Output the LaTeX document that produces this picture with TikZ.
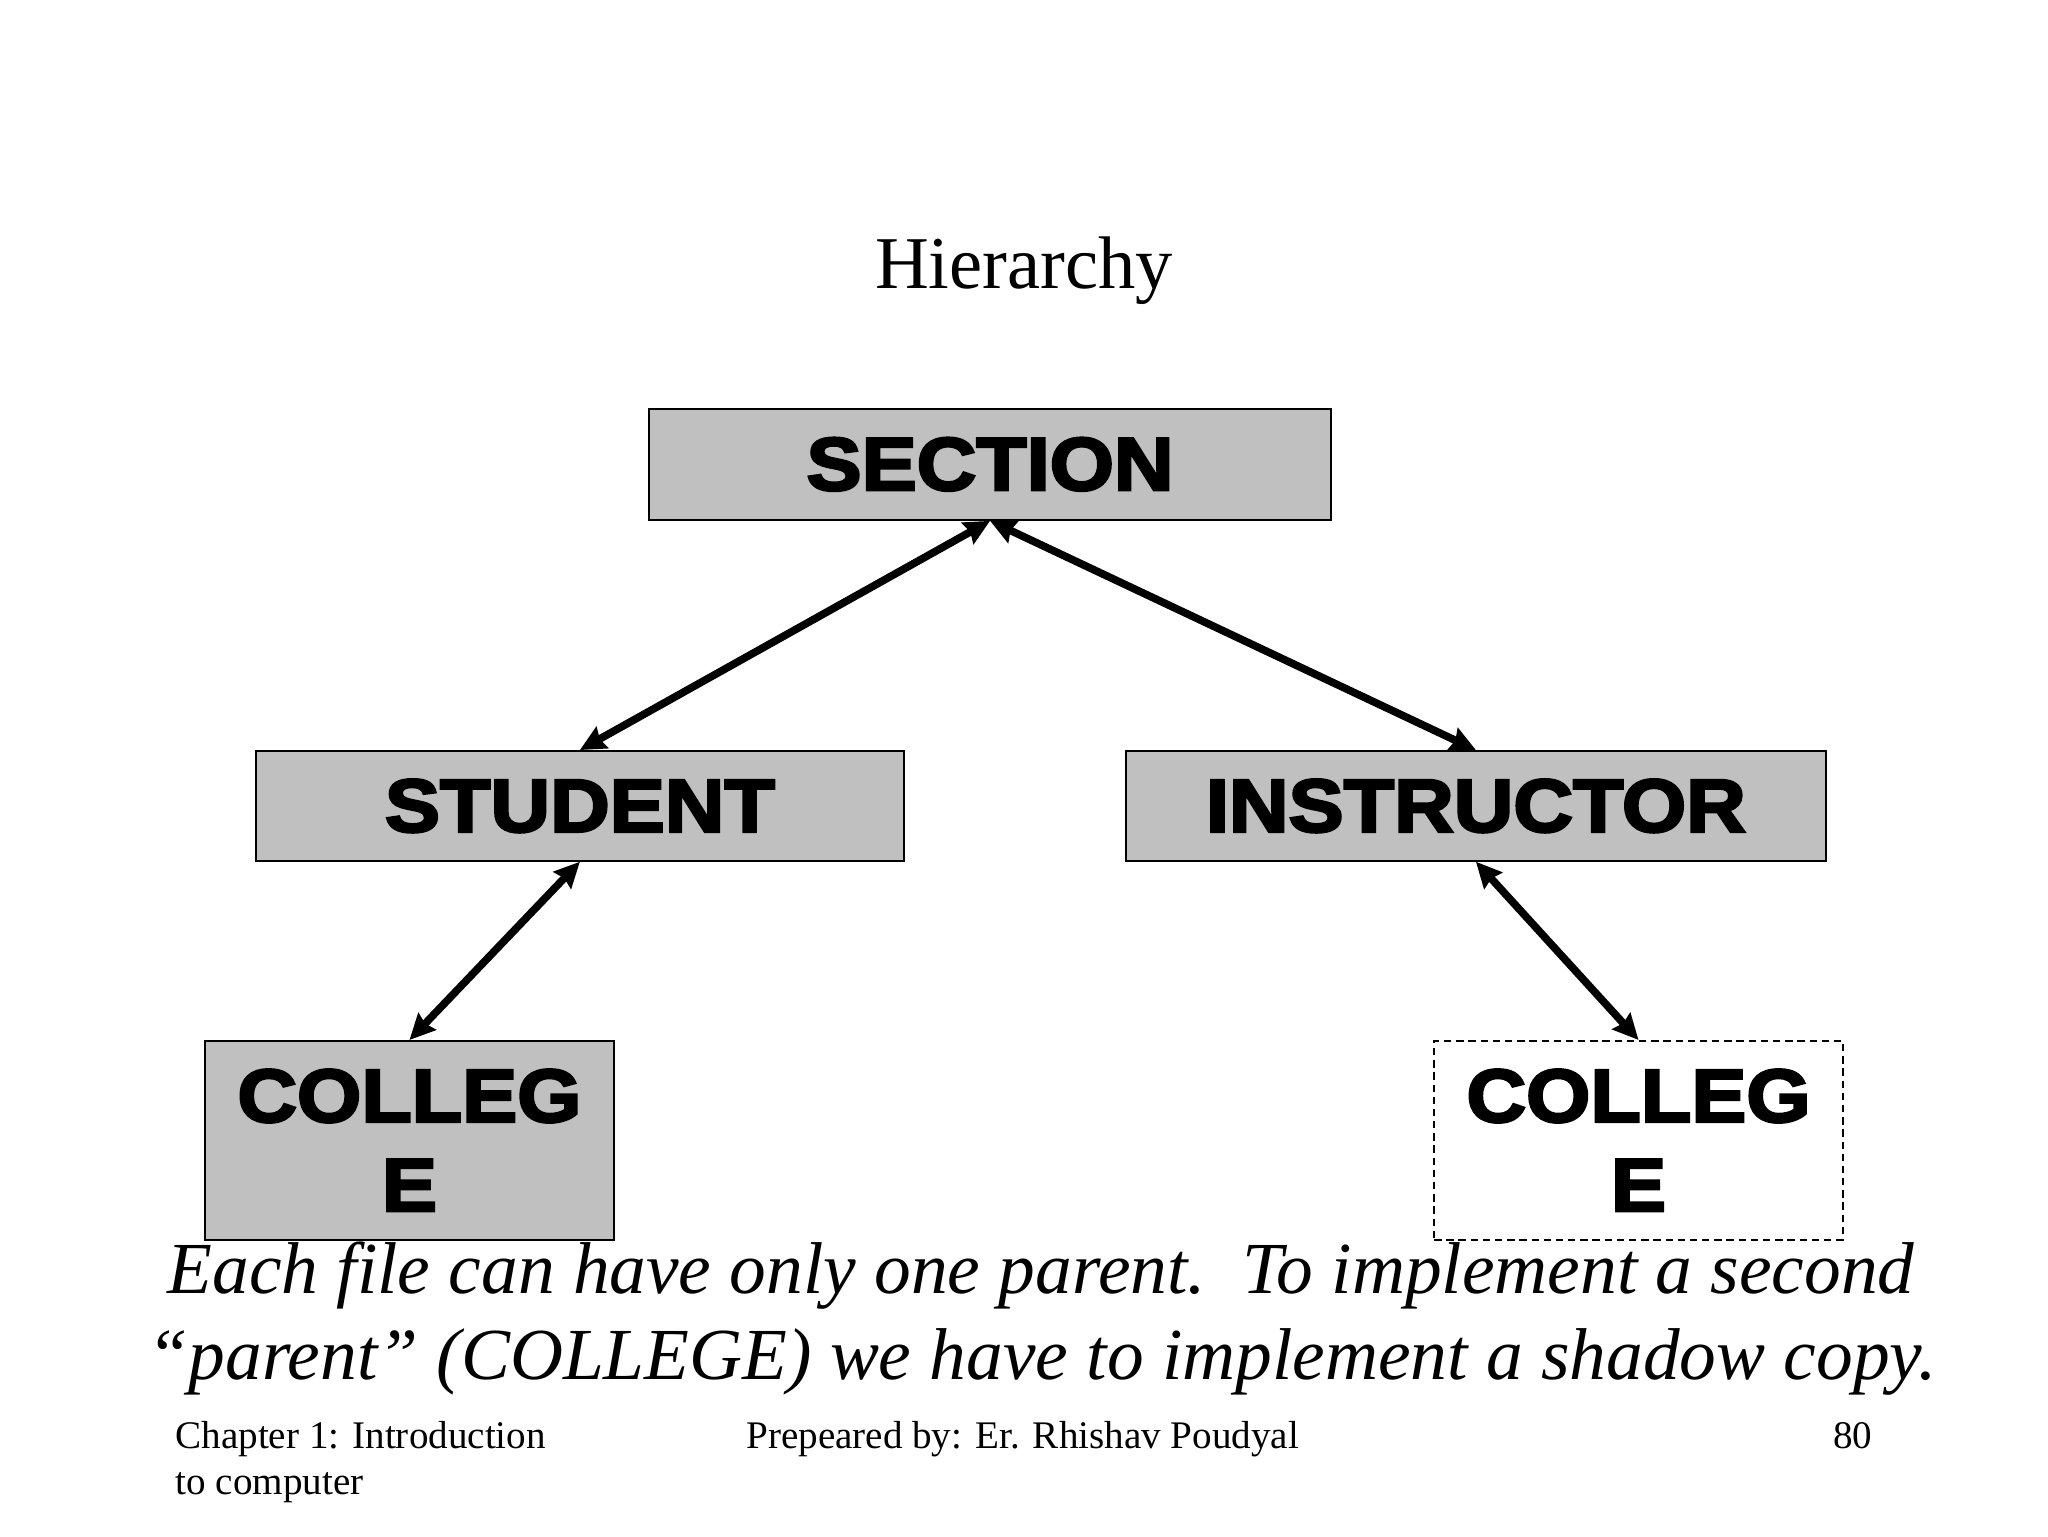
\documentclass[tikz,border=0pt]{standalone}
\usepackage{fontspec}
\setmainfont{Liberation Serif}
\newfontfamily\boxfont{Liberation Sans Bold}[FakeBold=3.5,FakeStretch=1.1]
\usetikzlibrary{arrows.meta}
\def\u{0.0161990}% one pixel of the slide, in cm
\definecolor{boxgray}{HTML}{C0C0C0}
\tikzset{
	MyCoord/.style={x={(\u cm,0cm)},y={(0cm,-\u cm)}},
	MySize/.style 2 args={minimum width={#1*\u*1cm},minimum height={#2*\u*1cm}},% in pixels
	MyBox/.style={draw=black,line width=0.7pt,fill=boxgray,inner sep=0pt,
    align=center,font=\boxfont\fontsize{26.5}{31.5}\selectfont},
	MyShadow/.style={MyBox,fill=white,dash pattern=on 2.6pt off 1.7pt},
	MyArrow/.style={line width=2.7pt,>={Stealth[length=9pt,width=8.5pt,inset=1pt]},<->}
		}

\begin{document}
\begin{tikzpicture}[MyCoord]

  \useasboundingbox (0,0) rectangle (1568,1176);

  % title
  \node[anchor=base,font=\fontsize{26.3}{30}\selectfont] (title) at (784,221) {Hierarchy};

  % the files
  \node[MyBox,MySize={522}{85}] (section) at (758,355.5) {SECTION};
  \node[MyBox,MySize={496}{84}] (student) at (444,617) {STUDENT};
  \node[MyBox,MySize={536}{84}] (instructor) at (1130,617) {INSTRUCTOR};
  \node[MyBox,MySize={313}{152}] (college) at (313.5,873) {COLLEG\\E};
  \node[MyShadow,MySize={313}{152}] (shadow) at (1254.5,873) {COLLEG\\E};

  % parent -- child links
  \draw[MyArrow] (section.south) -- (student.north);
  \draw[MyArrow] (section.south) -- (instructor.north);
  \draw[MyArrow] (student.south) -- (college.north);
  \draw[MyArrow] (instructor.south) -- (shadow.north);

  % caption
  \node[anchor=base,font=\itshape\fontsize{25.9}{30}\selectfont] (capA) at (797,990)
    {Each file can have only one parent.\ \ To implement a second};
  \node[anchor=base,font=\itshape\fontsize{25.9}{30}\selectfont] (capB) at (798,1056)
    {``parent'' (COLLEGE) we have to implement a shadow copy.};

  % footer
  \node[anchor=base west,inner sep=0pt,font=\fontsize{13.8}{17}\selectfont] (chapA) at (134,1109) {Chapter 1: Introduction};
  \node[anchor=base west,inner sep=0pt,font=\fontsize{13.8}{17}\selectfont] (chapB) at (134,1144) {to computer};
  \node[anchor=base west,inner sep=0pt,font=\fontsize{13.8}{17}\selectfont] (author) at (571,1109) {Prepeared by: Er. Rhishav Poudyal};
  \node[anchor=base east,inner sep=0pt,font=\fontsize{13.8}{17}\selectfont] (page) at (1434,1109) {80};
\end{tikzpicture}
\end{document}
